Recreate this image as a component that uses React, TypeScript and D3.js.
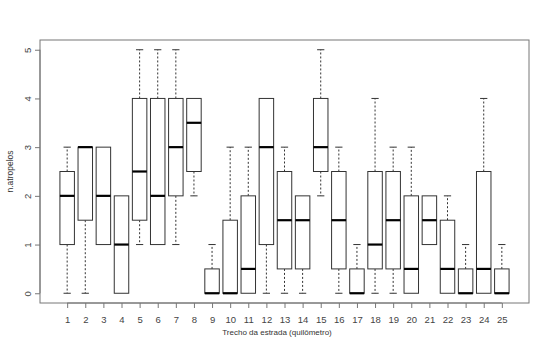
import { useEffect, useRef } from "react";
import * as d3 from "d3";

// trecho (km) 1..25
const trechos = d3.range(1, 26);
// five-number summaries
const whiskerLow = [0, 0, 1, 0, 1, 1, 1, 2, 0, 0, 0, 0, 0, 0, 2, 0, 0, 0, 0, 0, 1, 0, 0, 0, 0];
const q1 = [1, 1.5, 1, 0, 1.5, 1, 2, 2.5, 0, 0, 0, 1, 0.5, 0.5, 2.5, 0.5, 0, 0.5, 0.5, 0, 1, 0, 0, 0, 0];
const medians = [2, 3, 2, 1, 2.5, 2, 3, 3.5, 0, 0, 0.5, 3, 1.5, 1.5, 3, 1.5, 0, 1, 1.5, 0.5, 1.5, 0.5, 0, 0.5, 0];
const q3 = [2.5, 3, 3, 2, 4, 4, 4, 4, 0.5, 1.5, 2, 4, 2.5, 2, 4, 2.5, 0.5, 2.5, 2.5, 2, 2, 1.5, 0.5, 2.5, 0.5];
const whiskerHigh = [3, 3, 3, 2, 5, 5, 5, 4, 1, 3, 3, 4, 3, 2, 5, 3, 1, 4, 3, 3, 2, 2, 1, 4, 1];
const yTicks = [0, 1, 2, 3, 4, 5];

const App = () => {
  const svgRef = useRef<SVGSVGElement>(null);

  useEffect(() => {
    const width = 550;
    const height = 353;
    const margin = { top: 40, right: 21, bottom: 50, left: 40 };

    const svg = d3.select(svgRef.current);
    svg.selectAll("*").remove();
    svg.attr("width", width).attr("height", height);

    const x = d3
      .scaleLinear()
      .domain([-0.5, 26.5])
      .range([margin.left, width - margin.right]);
    const y = d3
      .scaleLinear()
      .domain([-0.2, 5.2])
      .range([height - margin.bottom, margin.top]);

    const font = "'Liberation Sans', Arial, sans-serif";
    const boxW = x(0.8) - x(0);
    const capW = boxW / 2;

    const data = trechos.map((t, i) => ({
      t,
      lo: whiskerLow[i],
      q1: q1[i],
      med: medians[i],
      q3: q3[i],
      hi: whiskerHigh[i],
    }));

    const g = svg.append("g");

    // whiskers (dashed) and staples
    const boxes = g.selectAll(".box").data(data).enter().append("g");
    boxes
      .filter((d) => d.hi > d.q3)
      .append("line")
      .attr("x1", (d) => x(d.t))
      .attr("x2", (d) => x(d.t))
      .attr("y1", (d) => y(d.q3))
      .attr("y2", (d) => y(d.hi))
      .attr("stroke", "#333")
      .attr("stroke-dasharray", "2,2");
    boxes
      .filter((d) => d.lo < d.q1)
      .append("line")
      .attr("x1", (d) => x(d.t))
      .attr("x2", (d) => x(d.t))
      .attr("y1", (d) => y(d.q1))
      .attr("y2", (d) => y(d.lo))
      .attr("stroke", "#333")
      .attr("stroke-dasharray", "2,2");
    boxes
      .filter((d) => d.hi > d.q3)
      .append("line")
      .attr("x1", (d) => x(d.t) - capW / 2)
      .attr("x2", (d) => x(d.t) + capW / 2)
      .attr("y1", (d) => y(d.hi))
      .attr("y2", (d) => y(d.hi))
      .attr("stroke", "#333");
    boxes
      .filter((d) => d.lo < d.q1)
      .append("line")
      .attr("x1", (d) => x(d.t) - capW / 2)
      .attr("x2", (d) => x(d.t) + capW / 2)
      .attr("y1", (d) => y(d.lo))
      .attr("y2", (d) => y(d.lo))
      .attr("stroke", "#333");
    // boxes
    boxes
      .append("rect")
      .attr("x", (d) => x(d.t) - boxW / 2)
      .attr("width", boxW)
      .attr("y", (d) => y(d.q3))
      .attr("height", (d) => y(d.q1) - y(d.q3))
      .attr("fill", "white")
      .attr("stroke", "#333");
    // medians
    boxes
      .append("line")
      .attr("x1", (d) => x(d.t) - boxW / 2)
      .attr("x2", (d) => x(d.t) + boxW / 2)
      .attr("y1", (d) => y(d.med))
      .attr("y2", (d) => y(d.med))
      .attr("stroke", "#000")
      .attr("stroke-width", 2.2);

    // frame
    svg
      .append("rect")
      .attr("x", margin.left)
      .attr("y", margin.top)
      .attr("width", width - margin.left - margin.right)
      .attr("height", height - margin.bottom - margin.top)
      .attr("fill", "none")
      .attr("stroke", "#777");

    // x axis
    const xAxis = svg
      .append("g")
      .attr("transform", `translate(0,${height - margin.bottom})`)
      .call(d3.axisBottom(x).tickValues(trechos).tickSize(5).tickPadding(8));
    xAxis.select(".domain").attr("d", `M${x(1)},0H${x(25)}`).attr("stroke", "#777");
    xAxis.selectAll("line").attr("stroke", "#777");
    xAxis
      .selectAll("text")
      .attr("fill", "#444")
      .style("font-family", font)
      .style("font-size", "9.5px");

    // y axis
    const yAxis = svg
      .append("g")
      .attr("transform", `translate(${margin.left},0)`)
      .call(d3.axisLeft(y).tickValues(yTicks).tickSize(5).tickFormat(d3.format("d")));
    yAxis.select(".domain").attr("d", `M0,${y(0)}V${y(5)}`).attr("stroke", "#777");
    yAxis.selectAll("line").attr("stroke", "#777");
    yAxis
      .selectAll("text")
      .attr("x", null)
      .attr("dy", null)
      .attr("text-anchor", "middle")
      .attr("transform", "translate(-9,0) rotate(-90)")
      .attr("fill", "#444")
      .style("font-family", font)
      .style("font-size", "9.5px");

    // axis titles
    svg
      .append("text")
      .attr("x", 277)
      .attr("y", 335)
      .attr("text-anchor", "middle")
      .attr("fill", "#333")
      .style("font-family", font)
      .style("font-size", "8px")
      .text("Trecho da estrada (quilômetro)");

    svg
      .append("text")
      .attr("transform", `translate(13,${y(2.5)}) rotate(-90)`)
      .attr("text-anchor", "middle")
      .attr("fill", "#333")
      .style("font-family", font)
      .style("font-size", "8.5px")
      .text("n.atropelos");
  }, []);

  return (
    <div style={{ position: "absolute", left: 0, top: 0 }}>
      <svg ref={svgRef} style={{ display: "block", background: "white" }}></svg>
    </div>
  );
};

export default App;
